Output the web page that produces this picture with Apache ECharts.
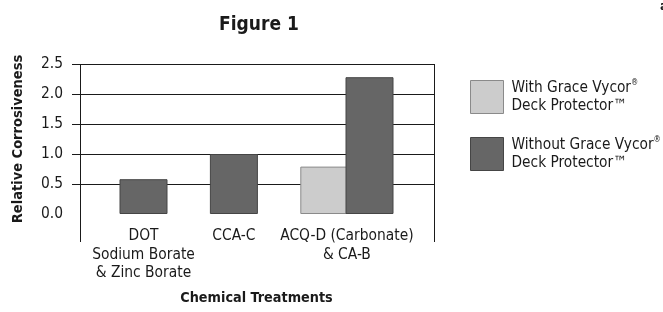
<!DOCTYPE html>
<html><head><meta charset="utf-8">
<script src="https://cdn.jsdelivr.net/npm/echarts@6/dist/echarts.min.js"></script>
<style>html,body{margin:0;padding:0;background:#fff}#c{width:663px;height:312px}</style>
</head><body><div id="c"></div>
<script>
// ---- data ----
const categories = ['DOT\nSodium Borate\n& Zinc Borate', 'CCA-C', 'ACQ-D (Carbonate)\n& CA-B'];
const withVycor = [null, null, 0.79];
const withoutVycor = [0.58, 1.00, 2.28];
const yTickValues = [0.5, 1.0, 1.5, 2.0, 2.5];
const seriesNames = ['With Grace Vycor', 'Without Grace Vycor'];

// ---- layout helpers (slots on a fine category axis) ----
const FONT = "'DejaVu Sans Condensed','Liberation Sans',sans-serif";
const SLOTS = 15;
const labelSlots = [2, 6, 11];
const slotLabels = new Array(SLOTS).fill('');
const withSlots = new Array(SLOTS).fill(null);
const withoutSlots = new Array(SLOTS).fill(null);
categories.forEach((c, i) => {
  const s = labelSlots[i];
  slotLabels[s] = c;
  if (withVycor[i] != null) {
    withSlots[s - 1] = withVycor[i];
    withoutSlots[s + 1] = withoutVycor[i];
  } else {
    withoutSlots[s] = withoutVycor[i];
  }
});

const chart = echarts.init(document.getElementById('c'), null, {renderer: 'canvas'});
const ink = '#1a1a1a';
chart.setOption({
  animation: false,
  backgroundColor: '#fff',
  title: {
    text: 'Figure 1', left: 214, top: 11,
    textStyle: {fontFamily: FONT, fontWeight: 'bold', fontSize: 19, color: ink}
  },
  legend: {
    orient: 'vertical', left: 465, top: 74,
    itemWidth: 33, itemHeight: 33, itemGap: 21,
    icon: 'rect',
    data: [
      {name: seriesNames[0], itemStyle: {color: '#cccccc', borderColor: '#8a8a8a', borderWidth: 1}},
      {name: seriesNames[1], itemStyle: {color: '#666666', borderColor: '#454545', borderWidth: 1}}
    ],
    formatter: n => n + '{sup|®}\nDeck Protector™',
    textStyle: {
      fontFamily: FONT, fontSize: 15.3, lineHeight: 18, color: ink, padding: [0, 0, 0, 3],
      rich: {sup: {fontFamily: FONT, fontSize: 8, color: ink, verticalAlign: 'top', padding: [0, 0, 7, 0]}}
    }
  },
  grid: [
    {left: 80, right: 229, top: 64, bottom: 98},
    {left: 87, right: 237, top: 64, bottom: 98}
  ],
  xAxis: [
    {type: 'value', gridIndex: 0, min: 0, max: 1, show: false},
    {
      type: 'category', gridIndex: 1, data: slotLabels,
      axisLine: {show: false}, axisTick: {show: false},
      axisLabel: {interval: 0, fontFamily: FONT, fontSize: 15.4, lineHeight: 18.5, color: ink, margin: 13},
      name: 'Chemical Treatments', nameLocation: 'middle', nameGap: 77,
      nameTextStyle: {fontFamily: FONT, fontWeight: 'bold', fontSize: 14.3, color: ink}
    }
  ],
  yAxis: [
    {
      type: 'value', gridIndex: 0, min: 0, max: 2.5, interval: 0.5,
      axisLine: {show: false},
      axisTick: {show: true, length: 8, customValues: yTickValues, lineStyle: {color: ink}},
      axisLabel: {formatter: v => v.toFixed(1), fontFamily: FONT, fontSize: 15.4, color: ink, margin: 17},
      splitLine: {show: true, lineStyle: {color: ink, width: 1}},
      name: 'Relative Corrosiveness', nameLocation: 'middle', nameGap: 54,
      nameTextStyle: {fontFamily: FONT, fontWeight: 'bold', fontSize: 14.5, color: ink}
    },
    {type: 'value', gridIndex: 1, min: 0, max: 2.5, interval: 0.5, show: false, splitLine: {show: false}}
  ],
  series: [
    {
      name: seriesNames[0], type: 'bar', xAxisIndex: 1, yAxisIndex: 1,
      data: withSlots, barWidth: 48, barGap: '-100%',
      itemStyle: {color: '#cccccc', borderColor: '#8a8a8a', borderWidth: 1}
    },
    {
      name: seriesNames[1], type: 'bar', xAxisIndex: 1, yAxisIndex: 1,
      data: withoutSlots, barWidth: 48, barGap: '-100%',
      itemStyle: {color: '#666666', borderColor: '#454545', borderWidth: 1}
    }
  ],
  graphic: [
    {type: 'line', shape: {x1: 80.5, y1: 64, x2: 80.5, y2: 242}, style: {stroke: ink, lineWidth: 1}},
    {type: 'line', shape: {x1: 434.5, y1: 64, x2: 434.5, y2: 242}, style: {stroke: ink, lineWidth: 1}},
    {type: 'text', left: 660, top: 0, style: {text: 'a', font: "bold 13px " + FONT, fill: ink}}
  ]
});
</script></body></html>
